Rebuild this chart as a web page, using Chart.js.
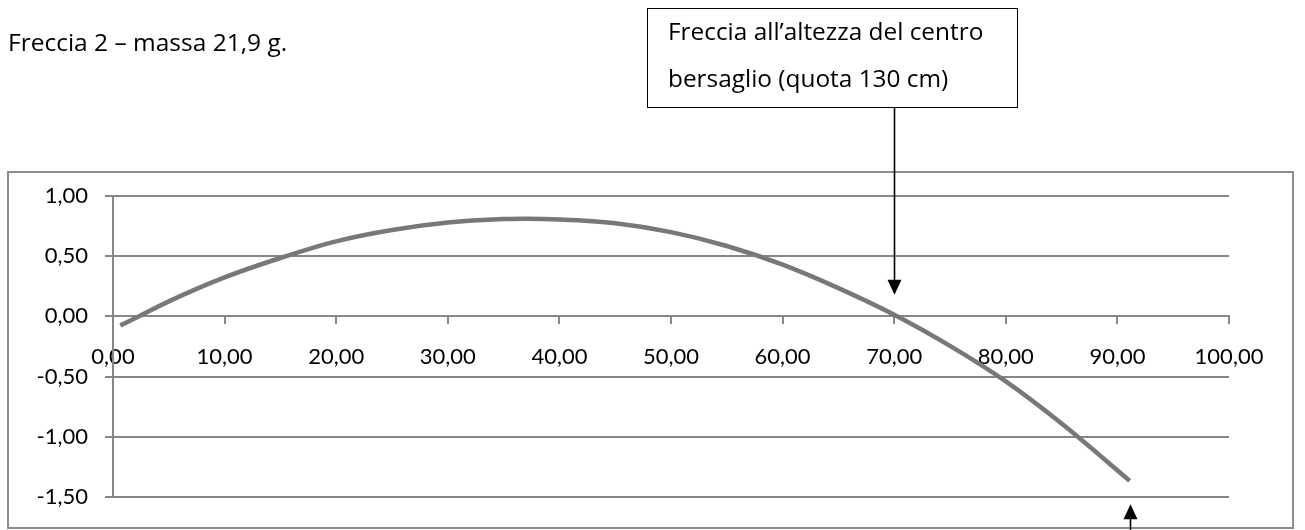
<!DOCTYPE html>
<html lang="it">
<head>
    <meta charset="UTF-8">
    <title>Freccia 2</title>
    <script src="https://cdn.jsdelivr.net/npm/chart.js"></script>
    <style>
        html, body { margin: 0; padding: 0; background: #fff; }
        #wrap { position: relative; width: 1305px; height: 530px; }
    </style>
</head>
<body>
<div id="wrap">
    <canvas id="traj" width="1305" height="530"></canvas>
</div>

<script>
    // distanza (m) e quota relativa (m)
    const distances = [0.65, 2.3, 5, 10, 15, 20, 25, 30, 35, 37, 40, 45, 50, 55, 60, 65, 70, 75, 80, 85, 91.1];
    const heights = [-0.075, 0, 0.125, 0.324, 0.485, 0.623, 0.717, 0.779, 0.808, 0.811, 0.805, 0.774, 0.70, 0.585, 0.43, 0.235, 0.014, -0.245, -0.54, -0.89, -1.365];
    const xTicks = [0, 10, 20, 30, 40, 50, 60, 70, 80, 90, 100];
    const yTicks = [1, 0.5, 0, -0.5, -1, -1.5];

    const titleText = 'Freccia 2 \u2013 massa 21,9 g.';
    const noteLines = ['Freccia all\u2019altezza del centro', 'bersaglio (quota 130 cm)'];
    const targetX = 70;      // punto indicato dalla freccia in alto
    const targetTipY = 0.18;
    const endTipY = -1.56;   // freccia in basso, sotto l'ultimo punto

    const FONT = 'Lato, "Open Sans", sans-serif';
    const TEXT_FONT = '"Open Sans", sans-serif';
    const fmt = v => v.toFixed(2).replace('.', ',');

    // dimensione del font tale che il testo occupi la larghezza voluta
    function fitFont(ctx, text, width) {
        ctx.font = '20px ' + TEXT_FONT;
        const w = ctx.measureText(text).width;
        return (20 * width / w).toFixed(1) + 'px ' + TEXT_FONT;
    }

    function arrow(ctx, x, y0, y1) {
        const dir = y1 > y0 ? 1 : -1;
        ctx.beginPath();
        ctx.moveTo(x, y0);
        ctx.lineTo(x, y1 - dir * 14);
        ctx.stroke();
        ctx.beginPath();
        ctx.moveTo(x, y1);
        ctx.lineTo(x - 7, y1 - dir * 15);
        ctx.lineTo(x + 7, y1 - dir * 15);
        ctx.closePath();
        ctx.fill();
    }

    const decorations = {
        id: 'decorations',
        beforeDraw(chart) {
            const ctx = chart.ctx;
            ctx.save();
            // cornice del grafico
            ctx.strokeStyle = '#8c8c8c';
            ctx.lineWidth = 2;
            ctx.strokeRect(8, 172, 1285, 356);
            ctx.restore();
        },
        afterDraw(chart) {
            const ctx = chart.ctx;
            const xs = chart.scales.x, ys = chart.scales.y;
            ctx.save();
            ctx.fillStyle = '#000';
            ctx.textBaseline = 'alphabetic';
            ctx.font = fitFont(ctx, titleText, 279);
            ctx.fillText(titleText, 8, 51);

            // riquadro nota
            ctx.strokeStyle = '#000';
            ctx.lineWidth = 1;
            ctx.fillStyle = '#fff';
            ctx.fillRect(647.5, 8.5, 370, 99);
            ctx.strokeRect(647.5, 8.5, 370, 99);
            ctx.fillStyle = '#000';
            ctx.font = fitFont(ctx, noteLines[0], 316);
            ctx.fillText(noteLines[0], 668, 40);
            ctx.fillText(noteLines[1], 668, 87);

            // frecce
            ctx.lineWidth = 1.6;
            const ax = Math.round(xs.getPixelForValue(targetX)) + 0.5;
            arrow(ctx, ax, 108, ys.getPixelForValue(targetTipY));
            const bx = Math.round(xs.getPixelForValue(distances[distances.length - 1])) + 0.5;
            arrow(ctx, bx, 532, ys.getPixelForValue(endTipY));
            ctx.restore();
        }
    };

    const ctx = document.getElementById('traj').getContext('2d');
    const chart = new Chart(ctx, {
        type: 'scatter',
        data: {
            datasets: [{
                data: distances.map((d, i) => ({ x: d, y: heights[i] })),
                showLine: true,
                borderColor: '#787878',
                borderWidth: 4.5,
                pointRadius: 0,
                cubicInterpolationMode: 'monotone',
                fill: false
            }]
        },
        options: {
            responsive: false,
            animation: false,
            layout: { padding: { top: 196, bottom: 33, right: 76, left: 0 } },
            plugins: { legend: { display: false }, tooltip: { enabled: false } },
            scales: {
                x: {
                    type: 'linear',
                    min: 0, max: 100,
                    position: { y: 0 },
                    afterBuildTicks: s => { s.ticks = xTicks.map(v => ({ value: v })); },
                    grid: { drawOnChartArea: false, drawTicks: true, tickLength: 7, color: '#878787', lineWidth: 2 },
                    border: { color: '#878787', width: 2 },
                    ticks: {
                        color: '#000', padding: 20, maxRotation: 0, autoSkip: false,
                        font: { family: FONT, size: 22 },
                        callback: v => fmt(v)
                    }
                },
                y: {
                    type: 'linear',
                    min: -1.5, max: 1,
                    position: 'left',
                    afterFit: s => { s.width = 113; },
                    afterBuildTicks: s => { s.ticks = yTicks.map(v => ({ value: v })); },
                    grid: { color: '#878787', lineWidth: 2, tickLength: 8 },
                    border: { color: '#878787', width: 2 },
                    ticks: {
                        color: '#000', padding: 17,
                        font: { family: FONT, size: 22 },
                        callback: v => fmt(v)
                    }
                }
            }
        },
        plugins: [decorations]
    });
</script>
</body>
</html>
